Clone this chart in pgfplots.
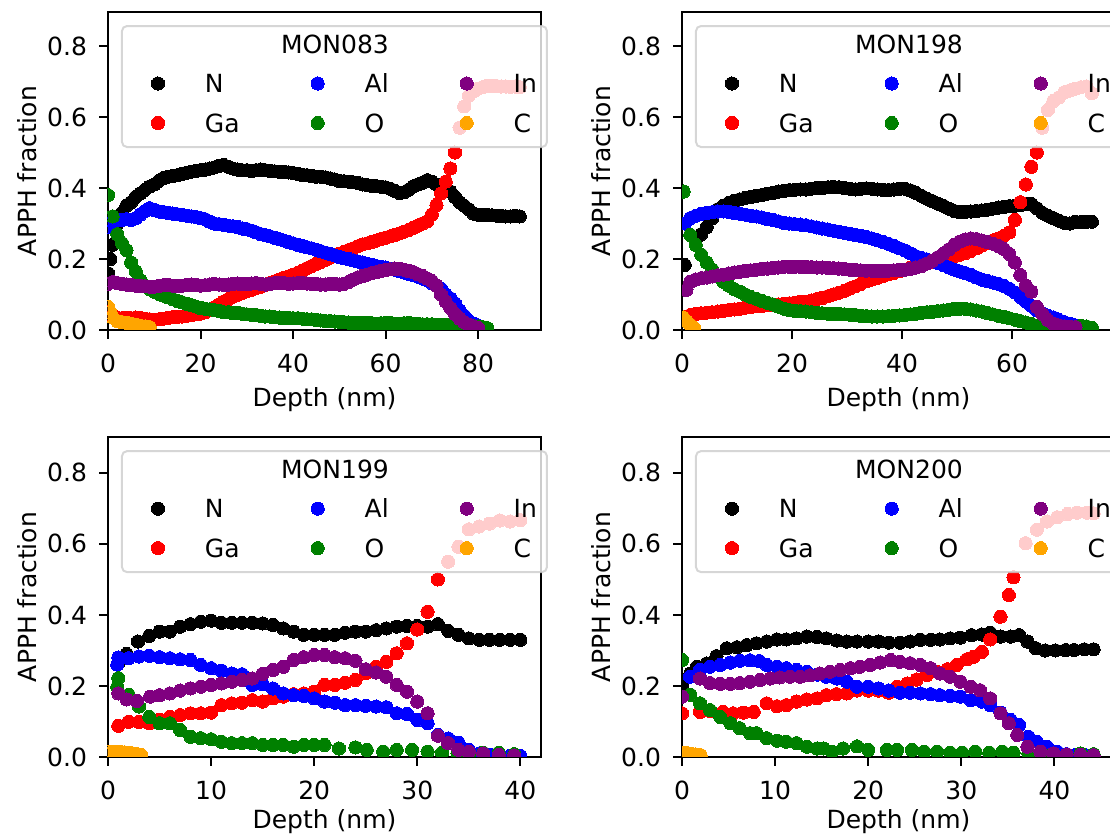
\documentclass[border=0pt]{standalone}
\usepackage{fontspec}
\setmainfont{DejaVu Sans}
\usepackage{pgfplots}
\pgfplotsset{compat=1.18}
\definecolor{mplgreen}{HTML}{008000}
\definecolor{mplpurple}{HTML}{800080}
\definecolor{mplorange}{HTML}{FFA500}
\definecolor{legedge}{HTML}{CCCCCC}
\pgfplotsset{
  dots/.style={only marks, mark=*, mark size=3.3pt, color=#1, mark options={line width=0pt}, forget plot},
  limg/.style={only marks, mark=*, mark size=3.3pt, color=#1, mark options={line width=0pt}},
  myax/.style={
    scale only axis, width=216.5pt,
    xmin=0, ymin=0,
    ytick={0,0.2,0.4,0.6,0.8},
    /pgf/number format/assume math mode=true,
    yticklabel style={/pgf/number format/fixed, /pgf/number format/precision=1, /pgf/number format/fixed zerofill, anchor=east, inner sep=0pt, xshift=-5.9pt},
    xticklabel style={anchor=base, inner sep=0pt, yshift=-17.1pt},
    tick pos=left, tick align=outside, major tick length=4.4pt,
    every tick/.style={black, line width=1pt},
    axis line style={line width=1pt},
    xlabel={Depth (nm)}, ylabel={APPH fraction},
    xlabel style={at={(axis description cs:0.5,0)}, anchor=base, yshift=-38.5pt, inner sep=0pt},
    ylabel style={at={(axis description cs:-0.187,0.5)}, anchor=center, inner sep=0pt},
    clip marker paths=true,
    legend columns=3, legend cell align=left,
    legend image code/.code={\path (0pt,-3pt) (25pt,3pt); \draw[opacity=1,##1] plot coordinates {(12.5pt,1.5pt)};},
    legend style={at={(axis description cs:0.030,0.959)}, anchor=north west,
      draw=legedge, line width=1pt, rounded corners=2.5pt,
      fill=white, fill opacity=0.8, draw opacity=0.8, text opacity=1,
      inner xsep=5pt, inner ysep=4.5pt, column sep=10.5pt, row sep=7.75pt,
      /tikz/every even column/.append style={column sep=26pt},
      nodes={inner sep=0pt, text height=9pt, text depth=3pt, anchor=west},
      font=\fontsize{12.5}{15}\selectfont},
  },
}
\newcommand{\mylegend}[1]{%
  \addlegendimage{empty legend}\addlegendentry{\rlap{\hspace{64.5pt}\makebox[0pt]{#1}}}
  \addlegendimage{empty legend}\addlegendentry{}
  \addlegendimage{empty legend}\addlegendentry{}
  \addlegendimage{limg=black}\addlegendentry{N}
  \addlegendimage{limg=blue}\addlegendentry{Al}
  \addlegendimage{limg=mplpurple}\addlegendentry{In}
  \addlegendimage{limg=red}\addlegendentry{Ga}
  \addlegendimage{limg=mplgreen}\addlegendentry{O}
  \addlegendimage{limg=mplorange}\addlegendentry{C}
}
\begin{document}
\begin{tikzpicture}[font=\fontsize{12.5}{15}\selectfont]
% ---------------- MON083 ----------------
\begin{axis}[myax, at={(54pt,253pt)}, anchor=south west, height=159pt,
  xmax=93.6, ymax=0.896, xtick={0,20,40,60,80}]
\addplot[dots=black] coordinates {(0,0.16)(0.5,0.2)(1,0.24)(2,0.30)(3,0.33)(4,0.35)(5,0.36)(6,0.375)(7,0.385)(8,0.395)(9,0.404)(10,0.41)(11,0.42)(12,0.428)(13,0.432)(14,0.434)(15,0.436)(16,0.44)(17,0.443)(18,0.446)(19,0.448)(20,0.45)(21,0.452)(22,0.455)(23,0.458)(24,0.462)(25,0.465)(26,0.46)(27,0.455)(28,0.452)(29,0.45)(30,0.45)(31,0.448)(32,0.45)(33,0.452)(34,0.45)(35,0.448)(36,0.447)(37,0.446)(38,0.445)(39,0.444)(40,0.442)(41,0.44)(42,0.437)(43,0.436)(44,0.434)(45,0.432)(46,0.432)(47,0.43)(48,0.427)(49,0.424)(50,0.42)(51,0.419)(52,0.418)(53,0.416)(54,0.414)(55,0.41)(56,0.408)(57,0.406)(58,0.405)(59,0.404)(60,0.402)(61,0.398)(62,0.392)(63,0.386)(64,0.388)(65,0.395)(66,0.405)(67,0.41)(68,0.415)(69,0.422)(70,0.418)(71,0.41)(72,0.405)(73,0.4)(74,0.39)(75,0.375)(76,0.36)(77,0.35)(78,0.34)(79,0.328)(80,0.325)(81,0.324)(82,0.324)(83,0.323)(84,0.322)(85,0.322)(86,0.32)(87,0.32)(88,0.322)(89,0.32)};
\addplot[dots=red] coordinates {(0,0.05)(1,0.04)(2,0.035)(3,0.033)(4,0.034)(5,0.033)(6,0.035)(7,0.034)(8,0.032)(9,0.03)(10,0.029)(11,0.03)(12,0.032)(13,0.034)(14,0.036)(15,0.037)(16,0.038)(17,0.04)(18,0.042)(19,0.044)(20,0.046)(21,0.05)(22,0.056)(23,0.064)(24,0.072)(25,0.08)(26,0.087)(27,0.094)(28,0.099)(29,0.104)(30,0.109)(31,0.113)(32,0.118)(33,0.122)(34,0.127)(35,0.132)(36,0.137)(37,0.142)(38,0.147)(39,0.151)(40,0.156)(41,0.161)(42,0.167)(43,0.174)(44,0.18)(45,0.186)(46,0.192)(47,0.198)(48,0.204)(49,0.21)(50,0.215)(51,0.22)(52,0.225)(53,0.23)(54,0.236)(55,0.241)(56,0.244)(57,0.248)(58,0.252)(59,0.256)(60,0.26)(61,0.264)(62,0.268)(63,0.272)(64,0.277)(65,0.282)(66,0.288)(67,0.294)(68,0.3)(69,0.306)(70,0.325)(71,0.352)(72,0.385)(73,0.418)(74,0.455)(75,0.5)(76,0.57)(77,0.63)(78,0.66)(79,0.672)(80,0.68)(81,0.684)(82,0.688)(83,0.688)(84,0.687)(85,0.686)(86,0.686)(87,0.685)(88,0.686)(89,0.684)};
\addplot[dots=blue] coordinates {(0,0.29)(1,0.305)(2,0.31)(3,0.31)(4,0.312)(5,0.31)(6,0.315)(7,0.325)(8,0.335)(9,0.343)(10,0.338)(11,0.334)(12,0.332)(13,0.33)(14,0.328)(15,0.326)(16,0.324)(17,0.322)(18,0.32)(19,0.318)(20,0.315)(21,0.312)(22,0.305)(23,0.3)(24,0.298)(25,0.296)(26,0.294)(27,0.292)(28,0.29)(29,0.286)(30,0.284)(31,0.28)(32,0.275)(33,0.27)(34,0.267)(35,0.264)(36,0.26)(37,0.256)(38,0.252)(39,0.248)(40,0.244)(41,0.24)(42,0.237)(43,0.233)(44,0.23)(45,0.226)(46,0.222)(47,0.218)(48,0.214)(49,0.21)(50,0.206)(51,0.202)(52,0.2)(53,0.196)(54,0.193)(55,0.19)(56,0.187)(57,0.183)(58,0.18)(59,0.178)(60,0.176)(61,0.172)(62,0.17)(63,0.166)(64,0.162)(65,0.158)(66,0.155)(67,0.15)(68,0.145)(69,0.14)(70,0.132)(71,0.125)(72,0.116)(73,0.1)(74,0.089)(75,0.075)(76,0.055)(77,0.04)(78,0.026)(79,0.018)(80,0.012)(81,0.006)};
\addplot[dots=mplgreen] coordinates {(0,0.38)(1,0.32)(2,0.27)(3,0.245)(4,0.225)(5,0.19)(6,0.165)(7,0.14)(8,0.125)(9,0.115)(10,0.108)(11,0.102)(12,0.097)(13,0.092)(14,0.087)(15,0.082)(16,0.078)(17,0.074)(18,0.07)(19,0.066)(20,0.062)(21,0.06)(22,0.058)(23,0.056)(24,0.054)(25,0.05)(26,0.05)(27,0.047)(28,0.048)(29,0.046)(30,0.044)(31,0.043)(32,0.042)(33,0.04)(34,0.038)(35,0.038)(36,0.036)(37,0.035)(38,0.034)(39,0.034)(40,0.033)(41,0.033)(42,0.032)(43,0.03)(44,0.03)(45,0.028)(46,0.027)(47,0.025)(48,0.025)(49,0.024)(50,0.023)(51,0.022)(52,0.021)(53,0.02)(54,0.02)(55,0.02)(56,0.02)(57,0.019)(58,0.018)(59,0.019)(60,0.02)(61,0.02)(62,0.018)(63,0.018)(64,0.019)(65,0.02)(66,0.018)(67,0.017)(68,0.016)(69,0.016)(70,0.016)(71,0.015)(72,0.015)(73,0.014)(74,0.014)(75,0.014)(76,0.013)(77,0.012)(78,0.012)(79,0.011)(80,0.01)(81,0.008)(82,0.005)};
\addplot[dots=mplpurple] coordinates {(0,0.13)(1,0.135)(2,0.132)(3,0.13)(4,0.128)(5,0.127)(6,0.125)(7,0.124)(8,0.123)(9,0.122)(10,0.122)(11,0.124)(12,0.126)(13,0.127)(14,0.125)(15,0.124)(16,0.125)(17,0.127)(18,0.128)(19,0.127)(20,0.125)(21,0.126)(22,0.128)(23,0.13)(24,0.128)(25,0.127)(26,0.128)(27,0.13)(28,0.131)(29,0.13)(30,0.13)(31,0.131)(32,0.132)(33,0.13)(34,0.128)(35,0.13)(36,0.132)(37,0.133)(38,0.132)(39,0.13)(40,0.131)(41,0.132)(42,0.133)(43,0.131)(44,0.13)(45,0.13)(46,0.128)(47,0.128)(48,0.13)(49,0.13)(50,0.128)(51,0.13)(52,0.135)(53,0.142)(54,0.148)(55,0.152)(56,0.156)(57,0.16)(58,0.163)(59,0.166)(60,0.169)(61,0.171)(62,0.173)(63,0.172)(64,0.17)(65,0.166)(66,0.163)(67,0.157)(68,0.152)(69,0.145)(70,0.138)(71,0.125)(72,0.1)(73,0.08)(74,0.062)(75,0.045)(76,0.032)(77,0.022)(78,0.015)(79,0.01)(80,0.006)};
\addplot[dots=mplorange] coordinates {(0,0.065)(0.5,0.05)(1,0.035)(2,0.025)(3,0.022)(4,0.02)(5,0.018)(6,0.015)(7,0.012)(8,0.01)(9,0.008)};
\mylegend{MON083}
\end{axis}
% ---------------- MON198 ----------------
\begin{axis}[myax, at={(341pt,253pt)}, anchor=south west, height=159pt,
  xmax=78.7, ymax=0.896, xtick={0,20,40,60}]
\addplot[dots=black] coordinates {(0.5,0.183)(2.5,0.255)(3.5,0.27)(4.5,0.29)(5.5,0.315)(6.5,0.34)(7.5,0.35)(8.5,0.358)(9.5,0.364)(10.5,0.368)(11.5,0.372)(12.5,0.375)(13.5,0.378)(14.5,0.38)(15.5,0.384)(16.5,0.386)(17.5,0.39)(18.5,0.392)(19.5,0.394)(20.5,0.395)(21.5,0.396)(22.5,0.396)(23.5,0.398)(24.5,0.4)(25.5,0.4)(26.5,0.402)(27.5,0.403)(28.5,0.402)(29.5,0.4)(30.5,0.398)(31.5,0.396)(32.5,0.398)(33.5,0.399)(34.5,0.398)(35.5,0.396)(36.5,0.395)(37.5,0.394)(38.5,0.396)(39.5,0.398)(40.5,0.398)(41.5,0.393)(42.5,0.386)(43.5,0.378)(44.5,0.37)(45.5,0.363)(46.5,0.356)(47.5,0.35)(48.5,0.342)(49.5,0.335)(50.5,0.332)(51.5,0.333)(52.5,0.334)(53.5,0.335)(54.5,0.337)(55.5,0.339)(56.5,0.342)(57.5,0.345)(58.5,0.347)(59.5,0.349)(60.5,0.35)(61.5,0.352)(62.5,0.356)(63.5,0.355)(64.5,0.343)(65.5,0.33)(66.5,0.322)(67.5,0.315)(68.5,0.308)(69.5,0.302)(70.5,0.3)(71.5,0.305)(72.5,0.304)(73.5,0.305)(74.5,0.305)};
\addplot[dots=red] coordinates {(0.5,0.035)(1.5,0.042)(2.5,0.045)(3.5,0.047)(4.5,0.049)(5.5,0.05)(6.5,0.052)(7.5,0.054)(8.5,0.056)(9.5,0.058)(10.5,0.06)(11.5,0.063)(12.5,0.065)(13.5,0.067)(14.5,0.068)(15.5,0.07)(16.5,0.071)(17.5,0.072)(18.5,0.074)(19.5,0.075)(20.5,0.077)(21.5,0.079)(22.5,0.08)(23.5,0.083)(24.5,0.087)(25.5,0.09)(26.5,0.095)(27.5,0.1)(28.5,0.105)(29.5,0.11)(30.5,0.117)(31.5,0.123)(32.5,0.13)(33.5,0.137)(34.5,0.142)(35.5,0.147)(36.5,0.152)(37.5,0.157)(38.5,0.161)(39.5,0.166)(40.5,0.17)(41.5,0.175)(42.5,0.18)(43.5,0.184)(44.5,0.188)(45.5,0.193)(46.5,0.197)(47.5,0.2)(48.5,0.204)(49.5,0.208)(50.5,0.212)(51.5,0.217)(52.5,0.223)(53.5,0.23)(54.5,0.238)(55.5,0.245)(56.5,0.252)(57.5,0.258)(58.5,0.265)(59.5,0.275)(60.5,0.31)(61.5,0.36)(62.5,0.41)(63.5,0.46)(64.5,0.5)(65.5,0.57)(66.5,0.62)(67.5,0.645)(68.5,0.655)(69.5,0.67)(70.5,0.675)(71.5,0.68)(72.5,0.684)(73.5,0.686)(74.5,0.667)};
\addplot[dots=blue] coordinates {(0.5,0.3)(1.5,0.315)(2.5,0.322)(3.5,0.327)(4.5,0.33)(5.5,0.332)(6.5,0.334)(7.5,0.334)(8.5,0.333)(9.5,0.33)(10.5,0.328)(11.5,0.325)(12.5,0.322)(13.5,0.32)(14.5,0.317)(15.5,0.313)(16.5,0.31)(17.5,0.306)(18.5,0.302)(19.5,0.3)(20.5,0.298)(21.5,0.297)(22.5,0.295)(23.5,0.292)(24.5,0.289)(25.5,0.286)(26.5,0.283)(27.5,0.28)(28.5,0.277)(29.5,0.274)(30.5,0.271)(31.5,0.268)(32.5,0.265)(33.5,0.262)(34.5,0.258)(35.5,0.253)(36.5,0.248)(37.5,0.243)(38.5,0.237)(39.5,0.23)(40.5,0.224)(41.5,0.216)(42.5,0.208)(43.5,0.203)(44.5,0.199)(45.5,0.194)(46.5,0.189)(47.5,0.183)(48.5,0.176)(49.5,0.17)(50.5,0.165)(51.5,0.16)(52.5,0.155)(53.5,0.148)(54.5,0.142)(55.5,0.138)(56.5,0.134)(57.5,0.13)(58.5,0.124)(59.5,0.116)(60.5,0.106)(61.5,0.093)(62.5,0.08)(63.5,0.068)(64.5,0.055)(65.5,0.047)(66.5,0.04)(67.5,0.035)(68.5,0.028)(69.5,0.022)(70.5,0.018)(71.5,0.013)(72.5,0.009)};
\addplot[dots=mplgreen] coordinates {(0.3,0.39)(1.5,0.268)(2.5,0.24)(3.5,0.212)(4.5,0.19)(5.5,0.17)(6.5,0.152)(7.5,0.136)(8.5,0.125)(9.5,0.115)(10.5,0.108)(11.5,0.1)(12.5,0.093)(13.5,0.088)(14.5,0.082)(15.5,0.077)(16.5,0.072)(17.5,0.066)(18.5,0.06)(19.5,0.056)(20.5,0.054)(21.5,0.053)(22.5,0.052)(23.5,0.05)(24.5,0.048)(25.5,0.047)(26.5,0.046)(27.5,0.045)(28.5,0.045)(29.5,0.044)(30.5,0.043)(31.5,0.042)(32.5,0.04)(33.5,0.039)(34.5,0.038)(35.5,0.038)(36.5,0.038)(37.5,0.039)(38.5,0.04)(39.5,0.041)(40.5,0.042)(41.5,0.044)(42.5,0.046)(43.5,0.048)(44.5,0.05)(45.5,0.051)(46.5,0.053)(47.5,0.055)(48.5,0.057)(49.5,0.059)(50.5,0.06)(51.5,0.06)(52.5,0.058)(53.5,0.055)(54.5,0.052)(55.5,0.048)(56.5,0.044)(57.5,0.04)(58.5,0.037)(59.5,0.033)(60.5,0.029)(61.5,0.025)(62.5,0.021)(63.5,0.017)(64.5,0.012)(65.5,0.008)(66.5,0.005)(67.5,0.004)(68.5,0.004)(69.5,0.005)(70.5,0.006)(71.5,0.008)(72.5,0.012)(73.5,0.01)(74.5,0.006)};
\addplot[dots=mplpurple] coordinates {(0.8,0.113)(1.5,0.136)(2.5,0.142)(3.5,0.146)(4.5,0.148)(5.5,0.151)(6.5,0.154)(7.5,0.156)(8.5,0.159)(9.5,0.162)(10.5,0.164)(11.5,0.166)(12.5,0.168)(13.5,0.17)(14.5,0.172)(15.5,0.173)(16.5,0.175)(17.5,0.176)(18.5,0.178)(19.5,0.178)(20.5,0.178)(21.5,0.178)(22.5,0.178)(23.5,0.177)(24.5,0.176)(25.5,0.176)(26.5,0.175)(27.5,0.174)(28.5,0.173)(29.5,0.172)(30.5,0.17)(31.5,0.169)(32.5,0.168)(33.5,0.167)(34.5,0.167)(35.5,0.166)(36.5,0.166)(37.5,0.167)(38.5,0.168)(39.5,0.169)(40.5,0.17)(41.5,0.172)(42.5,0.176)(43.5,0.18)(44.5,0.187)(45.5,0.195)(46.5,0.205)(47.5,0.215)(48.5,0.227)(49.5,0.24)(50.5,0.249)(51.5,0.255)(52.5,0.258)(53.5,0.256)(54.5,0.252)(55.5,0.248)(56.5,0.243)(57.5,0.237)(58.5,0.228)(59.5,0.214)(60.5,0.19)(61.5,0.155)(62.5,0.125)(63.5,0.108)(64.5,0.065)(65.5,0.045)(66.5,0.028)(67.5,0.018)(68.5,0.013)(69.5,0.01)(70.5,0.009)(71.5,0.008)};
\addplot[dots=mplorange] coordinates {(0.2,0.035)(0.8,0.025)(1.5,0.015)(2.2,0.006)};
\mylegend{MON198}
\end{axis}
% ---------------- MON199 ----------------
\begin{axis}[myax, at={(54pt,39.5pt)}, anchor=south west, height=160pt,
  xmax=42.0, ymax=0.901, xtick={0,10,20,30,40},
  xlabel style={yshift=2.5pt}]
\addplot[dots=black] coordinates {(1,0.265)(1.8,0.29)(2.9,0.325)(4,0.341)(5,0.353)(6,0.353)(7,0.367)(8,0.374)(9,0.381)(10,0.384)(11,0.378)(12,0.378)(13,0.378)(14,0.378)(15,0.376)(16,0.372)(17,0.362)(18,0.353)(19,0.344)(20,0.344)(21,0.344)(22,0.344)(23,0.35)(24,0.353)(25,0.353)(26,0.357)(27,0.362)(28,0.367)(29,0.369)(30,0.369)(31,0.367)(32,0.374)(33,0.355)(34,0.344)(35,0.334)(36,0.33)(37,0.33)(38,0.33)(39,0.33)(40,0.33)};
\addplot[dots=red] coordinates {(1,0.088)(2,0.099)(3,0.099)(4,0.095)(5,0.104)(6,0.113)(7,0.118)(8,0.123)(9,0.123)(10,0.125)(11,0.146)(12,0.151)(13,0.153)(14,0.16)(15,0.156)(16,0.165)(17,0.17)(18,0.177)(19,0.179)(20,0.184)(21,0.203)(22,0.203)(23,0.209)(24,0.217)(25,0.236)(26,0.254)(27,0.268)(28,0.292)(29,0.32)(30,0.359)(31,0.409)(32,0.5)(33,0.55)(34,0.592)(35,0.641)(36,0.649)(37,0.657)(38,0.666)(39,0.663)(40,0.667)};
\addplot[dots=blue] coordinates {(0.9,0.26)(1,0.28)(2,0.278)(3,0.283)(4,0.285)(5,0.281)(6,0.278)(7,0.275)(8,0.273)(9,0.259)(10,0.25)(11,0.243)(12,0.235)(13,0.233)(14,0.203)(15,0.205)(16,0.193)(17,0.179)(18,0.174)(19,0.172)(20,0.165)(21,0.156)(22,0.153)(23,0.146)(24,0.146)(25,0.144)(26,0.142)(27,0.14)(28,0.123)(29,0.121)(30,0.104)(31,0.095)(32,0.062)(33,0.052)(34,0.04)(35,0.02)(36,0.01)(37,0.006)(38,0.004)(39,0.003)(40,0.003)};
\addplot[dots=mplgreen] coordinates {(0.9,0.197)(1,0.222)(2,0.175)(3,0.142)(4,0.113)(5,0.095)(6,0.095)(7,0.076)(8,0.057)(9,0.053)(10,0.05)(11,0.043)(12,0.039)(13,0.039)(14,0.039)(15,0.034)(16,0.034)(17,0.034)(18,0.029)(19,0.034)(20,0.034)(21,0.034)(22.4,0.024)(24.0,0.027)(25.1,0.02)(26.7,0.015)(28.0,0.02)(29.5,0.02)(31.0,0.015)(32.4,0.012)(33.9,0.01)(35.1,0.01)(36.4,0.012)(37.9,0.012)(39.4,0.008)};
\addplot[dots=mplpurple] coordinates {(1,0.179)(1.8,0.162)(2.8,0.158)(4.1,0.17)(5,0.174)(6,0.179)(7,0.187)(8,0.193)(9,0.198)(10,0.203)(11,0.207)(12,0.212)(13,0.217)(14,0.221)(15,0.234)(16,0.245)(17,0.254)(18,0.273)(19,0.281)(20,0.287)(21,0.287)(22,0.281)(23,0.278)(24,0.271)(25,0.247)(26,0.238)(27,0.226)(28,0.203)(29,0.184)(30,0.156)(31,0.123)(32,0.06)(33,0.039)(34,0.02)(35,0.015)(36.4,0.01)(37.9,0.006)(39.4,0.004)};
\addplot[dots=mplorange] coordinates {(0,0.013)(0.4,0.014)(0.8,0.015)(1.2,0.014)(1.6,0.013)(2.0,0.012)(2.4,0.01)(2.8,0.008)(3.2,0.006)};
\mylegend{MON199}
\end{axis}
% ---------------- MON200 ----------------
\begin{axis}[myax, at={(341pt,39.5pt)}, anchor=south west, height=160pt,
  xmax=46.5, ymax=0.901, xtick={0,10,20,30,40},
  xlabel style={yshift=2.5pt}]
\addplot[dots=black] coordinates {(0,0.197)(0.9,0.235)(1.6,0.254)(2.65,0.263)(3.7,0.284)(4.8,0.306)(5.9,0.309)(6.95,0.315)(8.0,0.32)(9.1,0.325)(10.2,0.331)(11.2,0.331)(12.3,0.334)(13.4,0.339)(14.5,0.338)(15.5,0.334)(16.6,0.328)(17.7,0.325)(18.8,0.325)(20.0,0.325)(21.1,0.325)(22.2,0.322)(23.4,0.322)(24.5,0.325)(25.6,0.33)(26.7,0.33)(27.7,0.331)(28.8,0.334)(29.9,0.336)(31.1,0.343)(32.2,0.345)(33.1,0.35)(34.2,0.339)(35.3,0.339)(36.2,0.343)(37.1,0.325)(38.0,0.306)(39.0,0.3)(40.1,0.3)(41.2,0.301)(42.1,0.301)(43.2,0.303)(44.2,0.303)};
\addplot[dots=red] coordinates {(0,0.123)(1.94,0.127)(3.0,0.13)(4.4,0.127)(5.5,0.123)(6.6,0.125)(7.7,0.127)(9.1,0.151)(10.2,0.143)(11.2,0.146)(12.3,0.156)(13.4,0.162)(14.5,0.165)(15.5,0.174)(16.6,0.177)(17.7,0.179)(18.8,0.187)(20.0,0.187)(21.1,0.187)(22.2,0.181)(23.1,0.198)(24.2,0.207)(25.2,0.218)(26.3,0.231)(27.4,0.24)(28.5,0.247)(29.5,0.259)(30.6,0.275)(31.3,0.282)(32.2,0.296)(33.1,0.331)(34.2,0.395)(35.1,0.456)(35.6,0.506)(36.9,0.602)(38.1,0.64)(39.2,0.663)(40.3,0.675)(41.4,0.684)(42.4,0.688)(43.5,0.688)(44.2,0.686)};
\addplot[dots=blue] coordinates {(0.86,0.226)(1.94,0.245)(3.0,0.254)(4.1,0.259)(5.2,0.266)(6.2,0.271)(7.3,0.272)(8.3,0.27)(9.1,0.259)(10.2,0.254)(11.2,0.25)(12.3,0.245)(13.4,0.24)(14.5,0.232)(15.5,0.226)(16.6,0.221)(17.7,0.212)(18.8,0.198)(20.0,0.198)(21.1,0.193)(22.2,0.187)(23.4,0.181)(24.5,0.181)(25.6,0.179)(26.7,0.177)(27.7,0.174)(28.8,0.172)(29.9,0.17)(31.0,0.16)(32.2,0.156)(33.1,0.146)(34.2,0.125)(35.3,0.104)(36.2,0.09)(37.2,0.057)(38.1,0.043)(39.2,0.029)(40.3,0.015)(41.3,0.008)(42.3,0.006)(43.3,0.005)(44.2,0.005)};
\addplot[dots=mplgreen] coordinates {(0,0.273)(0.9,0.175)(1.94,0.151)(3.0,0.132)(4.1,0.113)(5.2,0.095)(6.2,0.081)(7.3,0.067)(8.0,0.067)(9.1,0.053)(10.2,0.046)(11.2,0.043)(12.3,0.039)(13.4,0.029)(14.5,0.024)(15.2,0.024)(16.1,0.015)(17.3,0.024)(18.8,0.03)(20.0,0.02)(22.0,0.02)(23.1,0.02)(24.7,0.02)(26.0,0.015)(27.4,0.015)(28.8,0.012)(30.1,0.012)(31.5,0.015)(33.0,0.012)(34.4,0.015)(35.6,0.012)(37.2,0.01)(38.7,0.008)(39.9,0.01)(41.3,0.007)(42.8,0.01)(44.2,0.008)};
\addplot[dots=mplpurple] coordinates {(0,0.17)(1.94,0.221)(3.0,0.208)(4.1,0.206)(5.2,0.206)(6.2,0.208)(7.3,0.212)(8.4,0.217)(9.5,0.221)(10.5,0.224)(11.6,0.226)(12.7,0.226)(13.75,0.23)(14.8,0.235)(15.9,0.24)(17.0,0.245)(18.1,0.25)(19.1,0.254)(20.2,0.259)(21.3,0.266)(22.4,0.273)(23.4,0.268)(24.5,0.264)(25.6,0.259)(26.7,0.25)(27.7,0.235)(28.8,0.226)(29.9,0.212)(31.0,0.198)(32.0,0.188)(33.1,0.165)(34.2,0.123)(35.1,0.095)(36.0,0.062)(37.1,0.029)(38.5,0.015)(39.9,0.01)(41.3,0.007)(42.8,0.006)(44.2,0.005)};
\addplot[dots=mplorange] coordinates {(0,0.012)(0.5,0.011)(1.0,0.009)(1.5,0.007)(2.0,0.005)};
\mylegend{MON200}
\end{axis}
\pgfresetboundingbox
\path[use as bounding box] (0pt,0pt) rectangle (555pt,418pt);
\end{tikzpicture}
\end{document}
